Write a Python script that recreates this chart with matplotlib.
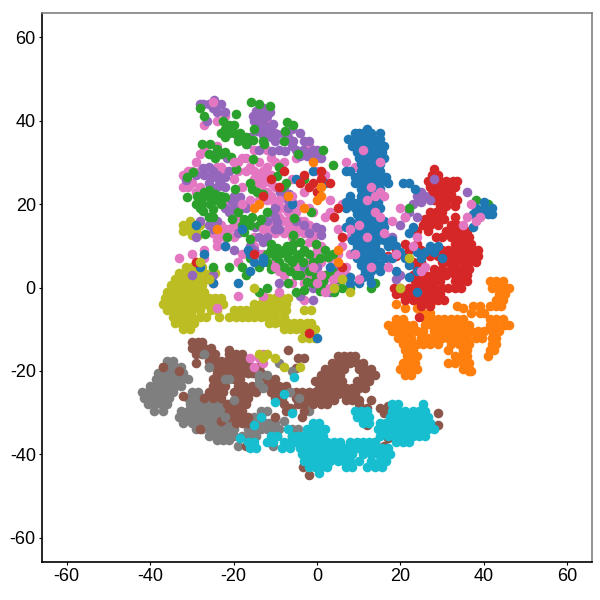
import matplotlib
matplotlib.use("Agg")
import matplotlib.pyplot as plt

plt.rcParams["font.family"] = ["Liberation Sans", "DejaVu Sans"]

# points, dense clusters kept as {y: [x, ...]} rows
gray = {-17.5: [-36, -34.5], -19: [-37, -35.5, -34, -32.5], -20.5: [-38, -36.5, -35, -33.5, -32, -16.5, -15.5], -22: [-38.5, -37, -35.5, -34, -32.5, -31, -14, -13],
    -23.5: [-40, -38.5, -37, -35.5, -34, -32.5], -25: [-42, -40.5, -39, -37.5, -36, -34.5, -30, -28.5], -26.5: [-41.5, -40, -38.5, -37, -35.5, -31, -29, -27, -25],
    -28: [-40.5, -39, -37.5, -36, -30.5, -29, -27.5, -26, -24.5, -22.5, -21], -29.5: [-39, -37, -32.5, -31, -29.5, -28, -26.5, -25, -23.5, -22, -20.5, -13.5, -12, -6, -2],
    -31: [-33, -31.5, -30, -28.5, -27, -25.5, -24, -22.5, -21, -15, -13.5], -32.5: [-32, -30, -28, -26, -24.5, -23, -21.5, -20.5, -17, -16, -14, -12.5, -11.5, -10], -34: [-29, -27.5, -26, -24.5, -23, -21.5, -20, -16.5, -15, -13.5, -12, -10.5, -9, -6, -4.5],
    -35.5: [-26, -24.5, -23, -21.5, -20, -18, -16, -14.5, -9.5, -6, -1.5], -36.5: [-24, -22.5, -21], -38: [-19, -15.5, -10.5]}
gray_top = [(-27, -16), (-26, -19), (-22, -22), (-21, -22), (-14, -21), (-14, -23), (-13, -24), (-12, -21), (-9, -18), (-4.3, -26.5), (-6, -20), (-6.5, -25), (-22, -31), (-24, -29), (-20, -27), (-12, -33), (-8, -32)]
brown = {-13: [-30, -28.5, -27.5], -14.5: [-30, -28.5, -27, -25.5], -16: [-29, -27.5, -26, -24.5, -21, -19.5, -18], -17.5: [-26, -24.5, -23, -21.5, -20, -18.5, -17], -19: [-26, -24.5, -23, -21.5, -20, -18.5, -17, -15.5, -14],
    -20.5: [-24, -22.5, -21, -19.5, -18, -16.5, -15, -13.5], -22: [-25, -23.5, -22, -20, -18.5, -13, -11.5, -10], -23.5: [-25, -23.5, -22, -19, -17.5, -15.5, -12, -10.5, -9, -7.5], -25: [-26, -24, -22.5, -19, -17.5, -16, -14.5, -11, -9.5, -8, -6.5, -5, -3.5, -2, -0.5, 1, 2.5],
    -26.5: [-27, -25, -23, -19.5, -18, -16.5, -10, -8.5, -5, -3.5, -2, -0.5, 1, 2.5, 3.5], -28: [-21.5, -20, -18.5, -17, -8, -4.5, -3, -1, 1, 2.5], -29.5: [-21, -19.5, -18, -7.5, -3],
    -31: [-21, -19.5, -18, -16.5, -3.5], -32.5: [-19.5, -18, -16.5], -16.5: [5, 6.5, 8, 9], -18: [3.5, 5, 6.5, 8, 9.5, 11], -19.5: [2, 3.5, 5, 6.5, 10, 11.5, 13], -21: [1, 2.5, 4, 5.5, 11, 12.5, 13.8], -22.5: [-0.5, 1, 2.5, 4, 6, 9.5, 11, 12.5],
    -24: [0.5, 2, 3.5, 5, 7, 8.5, 10, 11.5], -25.5: [3, 5, 6.5, 8, 9], -27: [4, 7, 8.5, 10], -19.2: [-5, -14], -15: [-7, -21], -17: [-4.5, -3]}
brown_stray = [(-32, -26), (-37, -19), (-28, -34), (-33, -20), (-23, -32), (12, -29), (13, -27), (15, -29), (16, -30), (18, -31), (18, -33), (22, -32), (29, -30), (29, -33), (12, -33), (17, -28.5), (10, -28),
    (-3.4, -43), (-2, -45), (14, -37), (17, -36), (16, -38), (-10, -31), (-6.5, -29), (-29, -18), (-17, -38), (-20, -25)]
olive = {16: [-30.5], 15: [-32, -30.5, -29, -28], 13.5: [-32, -30.5, -29], 12.5: [-30, -28.5],
    5: [-31.5, -30, -28.5, -27.5], 3.5: [-33, -31.5, -30, -28.5, -27, -25.5, -24.5], 2: [-34, -32.5, -31, -29.5, -28, -26.5], 0.5: [-35, -33.5, -32, -30.5, -29, -27.5], -1: [-36, -34.5, -33, -31.5, -30, -28.5, -27],
    -2.5: [-36.5, -35, -33.5, -32, -30.5, -29, -27.5, -26, -24.5, -23, -13, -11.5, -10, -8.5, -7], -4: [-37, -35.5, -34, -32.5, -31, -29.5, -28, -26.5, -25, -23.5, -22.5, -15, -13.5, -12, -10.5, -9, -7.5], -5.5: [-36, -34.5, -33, -31.5, -30, -28, -25.5, -24, -20, -18.5, -17, -15.5, -14, -12.5, -11, -9, -7.5, -3, -1.5], -7: [-34.5, -33, -31.5, -30, -28, -26.5, -23.5, -21, -19.5, -18, -16.5, -15, -13.5, -12, -10, -8], -8.5: [-34, -32.5, -31, -29.5, -11.5, -10, -8.5, -7, -5.5, -4, -2.5, -1.5],
    -10: [-32, -30.5, -8, -6.5, -5, -3.5, -2, -0.5], -12: [-3.5, -2, -0.5]}
orange = {-6: [25.5, 27, 37, 39, 40], -7.5: [19, 20.5, 26, 27.5, 29, 30.5, 32, 33.5, 35, 41.5, 43, 44.5], -9: [17, 18.5, 20, 21.5, 23, 26, 27.5, 29, 30.5, 32, 33.5, 35, 36.5, 41.5, 43, 45, 46], -10.5: [18, 19.5, 21, 22.5, 24, 25.5, 28, 29.5, 31, 32.5, 34, 35.5, 37, 38.5, 40, 42, 43.5],
    -12: [19.5, 21, 22.5, 25, 26.5, 28, 30, 31.5, 33, 34.5, 36, 38, 39.5, 42, 43], -13.5: [20.5, 22, 24, 25.5, 27, 29, 32, 34, 35.5, 36.5, 42, 43], -15: [21, 23, 31.5, 35, 36, 41.5, 42.5], -16.5: [21.5, 23, 24, 33, 34.5, 36, 41],
    -18: [20.5, 22, 23.5, 31.5, 33, 35, 36.5], -19.5: [20, 21.5, 23, 24, 35, 36.5], -21: [21, 22.5], 1.5: [41.5, 43, 44.5], 0: [42, 43.5, 45, 46], -1.5: [43.5, 45], -3: [43, 44.5], -4.5: [37.5, 39, 41.5, 43, 44], -20: [36.5, 37]}
orange_low = [(28, -3), (25, -1.5), (22, -1), (19, -4), (21, -5), (24, -5), (27, -4), (35, -5), (33.5, -4.5)]
red = {28.5: [28], 27: [27.5, 29], 25.5: [26.5, 28, 29.5, 31, 32.5, 33.5], 24: [27, 28.5, 30, 31.5, 33], 22.5: [27.5, 29, 30.5, 32], 21: [28, 29.5, 31, 32.5, 33.5], 19.5: [29.5, 31, 33], 18: [27, 28.5, 30], 16.5: [26, 27.5, 29, 30.5], 15: [25.5, 27, 29, 32, 33.5],
    13.5: [24, 26.5, 31, 32.5, 34, 36], 12: [28.5, 30, 32, 33.5, 35, 36.5], 10.5: [33, 34.5, 36, 37, 24, 21], 9: [30, 31.5, 33, 34.5, 36, 37.5, 38.5, 19, 22, 25], 7.5: [27, 29, 31, 32.5, 34, 35.5, 37, 38.5, 17, 19, 21], 6: [23, 25, 30, 31.5, 33, 35, 36.5, 38],
    4.5: [24, 25.5, 28, 30, 32, 33.5, 35, 36.5], 3: [23, 24.5, 26, 27.5, 29, 31, 33, 34.5, 36], 1.5: [23.5, 25, 26.5, 28, 29.5, 33, 34.5, 36], 0: [18.5, 20, 22, 23.5, 25, 26.5, 28, 30, 31.5, 33, 34.5],
    -1.5: [19, 20.5, 22, 23.5, 25, 26.5, 28, 29.5], -3: [21, 23, 24.5, 26, 27.5, 29, 30.5], -4.5: [25, 27], -7: [24.5]}
pink = [(-25, 44.5), (-27, 39), (-24, 40), (-22, 41), (-12, 40), (-10, 37), (-2, 34), (-27, 33), (-24, 34), (-23, 29), (-21, 31), (-18, 31), (-17, 31), (-30, 28), (-28, 28), (-15, 28), (-14, 25), (-13, 23), (-12, 21), (-11, 25), (-10, 30), (-31, 24), (-29, 23), (-26, 27),
    (-9, 21), (-8, 19), (-9, 17), (-7, 18), (-6, 15), (-11, 15), (-8, 13), (-4, 16), (-3, 13), (-2, 11), (0, 9), (1, 6), (3, 4), (2, 2), (4, 1), (5, 3), (-1, 4), (-4, 3), (-5, 5), (-3, 1), (-12, 14), (-15, 12), (-19, 17), (-21, 14), (-22, 12), (-23, 15), (-24, 10), (-25, 13), (-27, 9), (-19, 6), (-18, 8), (-13, 8), (-9, 4), (-7, 1), (-9, -1),
    (-33, 7), (-30, 8), (-27, 7), (-25, 1), (-24, -5), (-19, -2), (-13, -2), (-3, -3), (-5, 11), (-1, 3), (-28, 32), (-15, 33), (-11, 31), (-12, 33), (-6, 26), (-3, 23), (0, 28), (2, 27), (3, 21), (5, 14), (6, 10), (8, 8), (7, 3), (5, 1), (7, 5), (-1, 18), (2, 17), (0, 14), (3, 18), (6, 20), (7, 30), (8, 20), (9, 29), (10, 14), (10, 10), (8, 12),
    (-25, 13), (-24, 11.5), (-23, 13), (-22, 10), (-20, 15), (-19, 14), (-18, 19), (-16, 21), (-14, 27), (-13, 28), (-12, 26), (-12, 23), (-11, 22), (-10, 20), (-9, 19), (-8, 16), (-7, 14), (-6, 12), (-4, 14), (-3, 9), (-1, 7), (0, 5), (1, 3), (2, 0), (3, 3), (4, 5), (5, 5), (6, 2), (-2, 6), (-3, 3), (-6, 1), (-8, 3), (-10, 6), (-14, 8), (-15, 10), (-21, 20), (-20, 26), (-18, 24), (-17, 28), (-22, 28), (-24, 29), (-28, 24), (-30, 25), (-32, 27), (-19, 30), (-16, 29), (-14, 30), (-8, 30), (-5, 31),
    (-32, 24), (-31, 28), (-29, 30), (-20, 30), (-19, 28), (-15, 26), (-12, 29), (-11, 27), (-10, 24), (-7, 16), (-5, 18), (-4, 20), (-2, 15), (-1, 12), (1, 10), (-13, 25), (-14, 21), (-22, 14), (-20, 12), (-24, 13), (-10, 13), (-5, 13), (-3, 16), (-2, 19), (1, 1), (3, 7), (5, 8),
    (-16, -17), (-15, -19), (-13, -18), (-13, -16), (-14, -17)]
purple = [(-27.2, 44), (-24.8, 45), (-23, 44), (-26.4, 40), (-22, 42), (-14.5, 42.4), (-15.3, 41), (-13.7, 39.2), (-11.3, 42), (-10.5, 39.2), (-12.8, 37.6), (-14.4, 37.6), (-9.7, 36.8), (-5.7, 35), (-7.6, 32.8), (-3.3, 33), (-1.7, 32.5), (-0.2, 31), (-2.5, 31.5), (-16.7, 34.5), (-14, 33), (-10.8, 32.7), (-21.5, 31), (-24.4, 32), (-27.2, 28.6), (-26, 29), (-31.5, 25.7), (-25.2, 26.5), (-23.6, 25.7), (-22, 26.5), (-21.2, 28), (-23, 24.5), (-19.2, 21.2), (-20.4, 20.8), (-18.4, 21.6), (-26, 16.8), (-14.8, 14.4), (-9.6, 15.6), (-10, 16.8), (-6.8, 22.4), (-8.8, 23), (-6, 20.5), (-16, 10), (-13, 11), (-0.2, 14.5), (1, 12.5),
    (-12, 41), (-8, 37), (-6, 38), (-4, 37), (-24, 42), (-19, 36), (-2, 35), (0, 33), (-28, 20), (-19, 13), (-3, 5), (0, 5), (-1, 0), (-4, -2), (6, 2), (5, 5), (-29, 12), (-30, 3), (-20, 9), (-25, 3), (-9, 1), (-5, 16),
    (-26, 44), (-28, 44), (-25, 43), (-14, 41), (-13, 41), (-12, 38.5), (-11, 38), (-13, 40), (-15, 40), (-13, 36.5), (-10, 35), (-8, 35), (-6, 34), (-5, 33), (-4, 31.5), (-1, 33), (1, 31), (-3, 35), (-23, 26), (-24, 27), (-26, 25), (-24, 24), (-22, 24), (-20, 22), (-19, 19.5), (-18, 20), (-21, 18), (-9, 14), (-8, 24), (-7, 21), (-11, 18), (-25, 14), (-26, 15), (-15, 9), (-12, 12),
    (-13, 43), (-16, 36), (-11, 36), (-7, 36), (-9, 33), (-27, 27), (-29, 27), (-25, 28), (-20, 19), (-22, 19), (-24, 16), (-28, 16), (-17, 19), (-10, 19), (-8, 22), (-7, 19), (-12, 16), (-10, 14), (-3, 15), (-2, 13), (1, 14), (-14, 12), (-11, 9), (-1, -3), (3, -1),
    (25, 23), (26, 22), (24, 22), (23, 20), (22, 18), (21, 17), (20, 15), (24, 17), (28, 26), (36, 23), (18, 12), (17, 7), (19, 2), (20, 3), (27, 21), (25, 20.5)]
green = [(-27, 41), (-28, 43), (-22.5, 40), (-22, 38), (-21, 37), (-20, 39), (-19.3, 41.6), (-18.5, 37), (-17, 36), (-15.7, 44.4), (-15, 38), (-14, 44), (-13, 35), (-11.3, 43.6), (-7.3, 39.7), (-5.7, 38.9), (-7.7, 37.6), (-8, 35.2), (-4.5, 32), (-15.3, 35.3), (-12.8, 34.5), (-17, 34.5),
    (-27.6, 34.4), (-25.6, 34.4), (-24, 33.2), (-22, 32.5), (-20.6, 31.3), (-24.4, 31), (-15.3, 30.9), (-9.2, 28.9), (-16, 25), (-9.6, 26.8), (-19.4, 28.5), (-31.2, 26.5), (-29.6, 27.7),
    (-26, 23.3), (-24.4, 22.4), (-27.2, 21.7), (-28.8, 22), (-31.2, 21.7), (-22, 21.7), (-27.6, 20), (-25.6, 20), (-27.2, 18.4), (-25, 18.8), (-19.6, 23.6), (-15.6, 23.6), (-14.4, 23), (-8.3, 24), (-7.4, 25),
    (-20.3, 16.5), (-19, 18), (-17.5, 16.5), (-15.5, 16.8), (-13.5, 16.5), (-12, 18), (-17.5, 13.3), (-26.8, 12.8), (-21.5, 12), (-5.5, 16.6), (-1.5, 18), (-5.7, 12.5),
    (-16, 11.7), (-11, 10.5), (-13, 7), (-11, 4.5), (-16, 7), (-25, 5), (-21, 5), (-9.7, 9.5), (-9, 8), (-7.3, 10), (-6, 9), (-7.7, 8.2), (-5.7, 10.5), (-4, 8), (-6.5, 4), (-3.3, 6), (-2, 8), (-0.2, 10.5), (0.7, 7), (2.7, 7.3), (3.9, 8), (-2, 4), (-4, 3), (-0.2, 2.5), (1.4, 1.6), (-2.5, 1.4), (0.6, -0.8), (3.5, 4), (-3, 26), (3.9, 29.3), (1.5, 33),
    (-12, 0), (-8, 5), (-5, -1), (-14, -1), (-7, 1), (5, 2), (-1, 6), (-18, 5), (4, -1), (8, 0), (6, 0), (-4, 11), (-25, 17), (-23, 20), (-29, 20), (14, 1), (13, 0), (22, 19), (38, 21), (41, 20),
    (-21, 39), (-20, 37), (-23, 37), (-22, 36), (-19, 35), (-26, 32), (-23, 32), (-26, 22), (-25, 21), (-27, 23), (-28, 19), (-24, 21), (-26, 17), (-23, 22), (-13, 22.5), (-14, 15), (-16, 15), (-18, 15), (-12, 8), (-11, 9), (-10, 7.5), (-8, 9), (-7, 7), (-9, 6), (-5, 7), (-3, 9), (-1, 1), (1, 0), (2, 3), (-3, -0.5), (-5, 3), (-6, 6), (-12, 6), (-14, 5), (-17, 3), (2, 9)]
teal = {-28: [18, 19.5, 25.5], -29.5: [9, 10.5, 12, 18, 19.5, 21, 23, 24.5, 26], -31: [9.5, 11, 12.5, 17.5, 19, 20.5, 22, 23.5, 25, 26.5], -32.5: [-1, 0.5, 11, 12.5, 15, 16.5, 18, 19.5, 21, 22.5, 24, 25.5, 27],
    -34: [-2.5, -1, 0.5, 2, -7, 14.5, 16, 17.5, 19, 20.5, 22, 23.5, 25, 26.5, 28], -35.5: [-3.5, -2, 0, 1.5, -11, -9.5, -6, -4.5, 15, 17, 18.5, 20, 21.5, 23, 24.5, 26], -37: [-16.5, -15, -12, -10.5, -8, -6.5, -5, -3.5, -2, -0.5, 1, 2.5, 4, 5.5, 8, 9.5, 11, 12.5, 14, 19, 20.5, 22],
    -38.5: [-16, -14.5, -8.5, -6.5, -4, -2.5, -1, 0.5, 2, 3.5, 5, 6.5, 8, 9.5, 11, 12.5, 14, 15.5, 17], -40: [-3.5, -2, -0.5, 1, 2.5, 4, 5.5, 7, 8.5, 11, 13, 14.5, 16, 17.5], -41.5: [-3, -1.5, 0, 1.5, 3, 5, 6.5, 8, 10, 13, 15, 16.5],
    -43: [-2, -0.5, 1, 2.5, 7, 8.5, 12, 14, 15.5], -44.5: [0.5]}
teal_stray = [(-5.5, -21.5), (-8, -25.5), (-10, -27.5), (-6, -30), (-13.5, -31), (-18.5, -36), (-15, -33)]
blue = {38: [12], 37: [9, 10, 11, 13, 15], 35.5: [7.5, 9, 10.5, 12, 13.5, 15], 34: [8.5, 10, 11.5, 13, 14.5, 16], 32.5: [9.5, 11, 12.5, 14, 15.5], 31: [10, 11.5, 13, 14.5, 16], 29.5: [10.5, 12, 13.5, 15], 28: [10.5, 12, 13.5, 15, 7, 8],
    26.5: [9, 10.5, 12, 13.5, 15, 16.5], 25: [9, 10.5, 12, 13.5, 15, 17, 20.5, 22], 23.5: [10.5, 12, 13.5, 15, 23.5], 22: [8, 10.5, 12, 13.5, 15], 20.5: [7, 8.5, 10, 11.5, 13, 14.5, 40], 19: [7, 9, 10.5, 12, 13.5, 15, 38, 40, 42], 17.5: [9.5, 11, 12.5, 14, 37.5, 39.5, 41, 42],
    16: [8, 10, 11.5, 13, 14.5, 16], 14.5: [7, 8.5, 10, 11.5, 13, 14.5, 16, 23, 37.5], 13: [9, 10.5, 12, 13.5, 15, 22], 11.5: [8.5, 10, 11.5, 13, 14.5, 16, 18], 10: [9.5, 11, 12.5, 14, 17, 19, 27, 29], 8.5: [9, 10.5, 12, 13.5, 15, 20, 24, 26, 28],
    7: [9.5, 11, 12.5, 14, 16, 18, 21, 25, 30], 5.5: [10.5, 12, 13.5, 15, 22], 4: [11.5, 13, 15, 19, 24], 2.5: [11, 12.5, 8, 22], 1: [8, 10, 13], -1: [24]}
blue_stray = [(-18, 14), (-22, 10), (-27, 8), (-25, 1), (-15, 6), (-16, 8), (-13, 7), (0, -12), (-6, 20), (-1, 28), (2, 25), (-19, 1), (-28, 5), (-16, 4), (-5, 26), (3, 5), (-29, 15), (-16.5, 9), (-13, 6)]
# strays that lie on top of the other classes
pink_top = [(11, 33), (15, 30), (12, 21), (14, 18), (10, 15), (12, 12), (9, 8), (13, 5), (15, 17), (16, 22), (20, 19), (21, 17), (8, 14), (10, 2), (18, 16), (25, 4), (26, 5), (19, 8), (24, 12), (17, 5), (35, 15), (36, 17), (38, 16), (37, 20), (39, 17), (-25, 44.5), (-18, 20), (-13, 14), (-10, 5), (-1, 5), (1, 3), (3, 0), (4, 2), (2, -1), (0, 1), (5, 3), (6, 4), (14, 22), (13, 24), (15, 23), (23, 10), (16, 13), (-9, 21), (-6, 22), (-20, 30)]
red_top = [(-8, 28), (-3, 27), (-4, 25), (-2, 24), (0, 23), (1, 26), (3, 25), (5, 19), (4, 17), (-11, 26), (-13, 22), (-29, 6), (-9, 24), (-15, 8), (6, 12), (6, 5), (33, 17), (1, 28), (-1, 25), (-2, -11)]
orange_top = [(-7, 22), (-1, 30), (-3, 19), (-15, 19), (-14, 20), (-24, 14), (-26, 2), (1, 24), (0, 21), (1, 22), (5, 9), (5, 6)]
olive_top = [(-14, -16), (-12, -16), (-10, -17), (-28, 6), (-26, 2), (-15, 0), (-4, -19), (-8, -19), (22, 7), (20, 0), (6, 2), (8, -1), (4, 0), (-13, -17)]


def rows_xy(rows):
    pts = [(x, y) for y, xs in rows.items() for x in xs]
    return pts


LAYERS = [
    (rows_xy(gray), "#7f7f7f"), (rows_xy(brown) + brown_stray, "#8c564b"), (gray_top, "#7f7f7f"), (rows_xy(olive), "#bcbd22"),
    (rows_xy(orange) + orange_low, "#ff7f0e"), (rows_xy(red), "#d62728"), (pink, "#e377c2"), (purple, "#9467bd"),
    (green, "#2ca02c"), (rows_xy(teal) + teal_stray, "#17becf"), (rows_xy(blue) + blue_stray, "#1f77b4"),
    (pink_top, "#e377c2"), (red_top, "#d62728"), (orange_top, "#ff7f0e"), (olive_top, "#bcbd22"),
]
ticks = [-60, -40, -20, 0, 20, 40, 60]

fig = plt.figure(figsize=(6, 6), dpi=100)
ax = fig.add_axes([42/600, 38/600, 550/600, 549/600])
for pts, col in LAYERS:
    ax.scatter([p[0] for p in pts], [p[1] for p in pts], s=48, color=col, linewidths=0)

ax.set_xlim(-65.9, 65.9)
ax.set_ylim(-65.8, 65.8)
ax.set_xticks(ticks)
ax.set_yticks(ticks)
ax.set_xticklabels([str(t) for t in ticks])
ax.set_yticklabels([str(t) for t in ticks])
ax.tick_params(labelsize=13, length=2.5, width=0.8, pad=2)
ax.spines["top"].set_color("#808080")
ax.spines["right"].set_color("#808080")
ax.spines["top"].set_linewidth(1.2)
ax.spines["right"].set_linewidth(1.2)
ax.spines["left"].set_linewidth(1.2)
ax.spines["bottom"].set_linewidth(1.2)

fig.savefig("out.png", dpi=100)
